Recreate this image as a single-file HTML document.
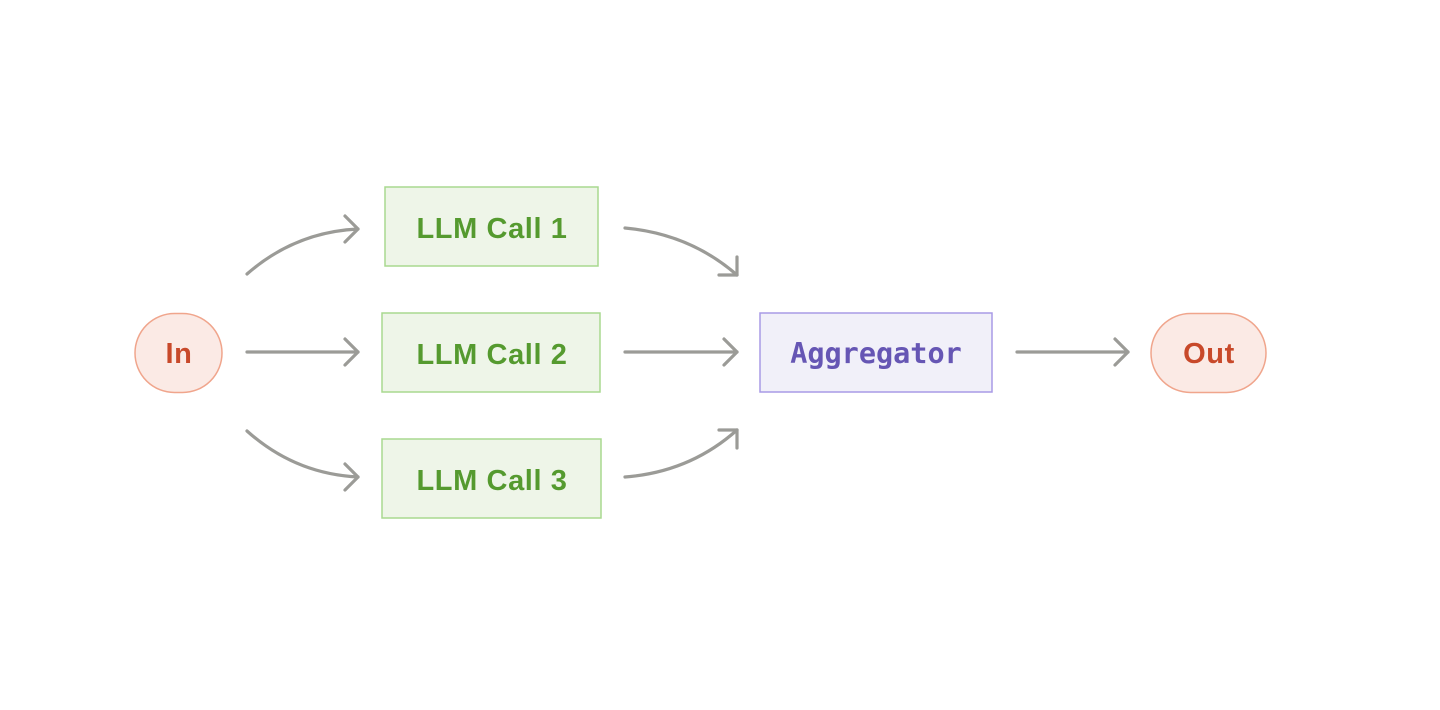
<!DOCTYPE html>
<html><head><style>
html,body{margin:0;padding:0;background:#fff;}
svg{display:block;}
text{font-family:"Liberation Sans",sans-serif;font-weight:bold;font-size:29px;letter-spacing:0.6px;}
</style></head><body>
<svg width="1440" height="710" viewBox="0 0 1440 710">
<g fill="none" stroke="#9b9b97" stroke-width="3.2" stroke-linecap="round" stroke-linejoin="round">
<path d="M247,274 Q295,232 358,229"/><path d="M345,216 L358,229 L345,242"/>
<path d="M247,352 L358,352"/><path d="M345,339 L358,352 L345,365"/>
<path d="M247,431 Q295,474 358,477"/><path d="M345,464 L358,477 L345,490"/>
<path d="M625,228 Q690,234 737,275"/><path d="M737,257 L737,275 L719,275"/>
<path d="M625,352 L737,352"/><path d="M724,339 L737,352 L724,365"/>
<path d="M625,477 Q690,472 737,430"/><path d="M737,448 L737,430 L719,430"/>
<path d="M1017,352 L1128,352"/><path d="M1115,339 L1128,352 L1115,365"/>
</g>
<rect x="135" y="313.5" width="87" height="79" rx="39.5" fill="#fbeae5" stroke="#f0a58c" stroke-width="1.5"/>
<text x="179" y="363" text-anchor="middle" fill="#c8492a">In</text>
<rect x="1151" y="313.5" width="115" height="79" rx="39.5" fill="#fbeae5" stroke="#f0a58c" stroke-width="1.5"/>
<text x="1209" y="363" text-anchor="middle" fill="#c8492a">Out</text>
<g fill="#eef5e8" stroke="#a9d98f" stroke-width="1.5">
<rect x="385" y="187" width="213" height="79"/>
<rect x="382" y="313" width="218" height="79"/>
<rect x="382" y="439" width="219" height="79"/>
</g>
<g fill="#559a2f" text-anchor="middle">
<text x="492" y="238">LLM Call 1</text>
<text x="492" y="364">LLM Call 2</text>
<text x="492" y="490">LLM Call 3</text>
</g>
<rect x="760" y="313" width="232" height="79" fill="#f1f0f9" stroke="#a89ae6" stroke-width="1.5"/>
<text x="876" y="363" text-anchor="middle" fill="#6656b4" style="font-family:'DejaVu Sans Mono','Liberation Mono',monospace;font-size:28.5px;letter-spacing:0">Aggregator</text>
</svg>
</body></html>
